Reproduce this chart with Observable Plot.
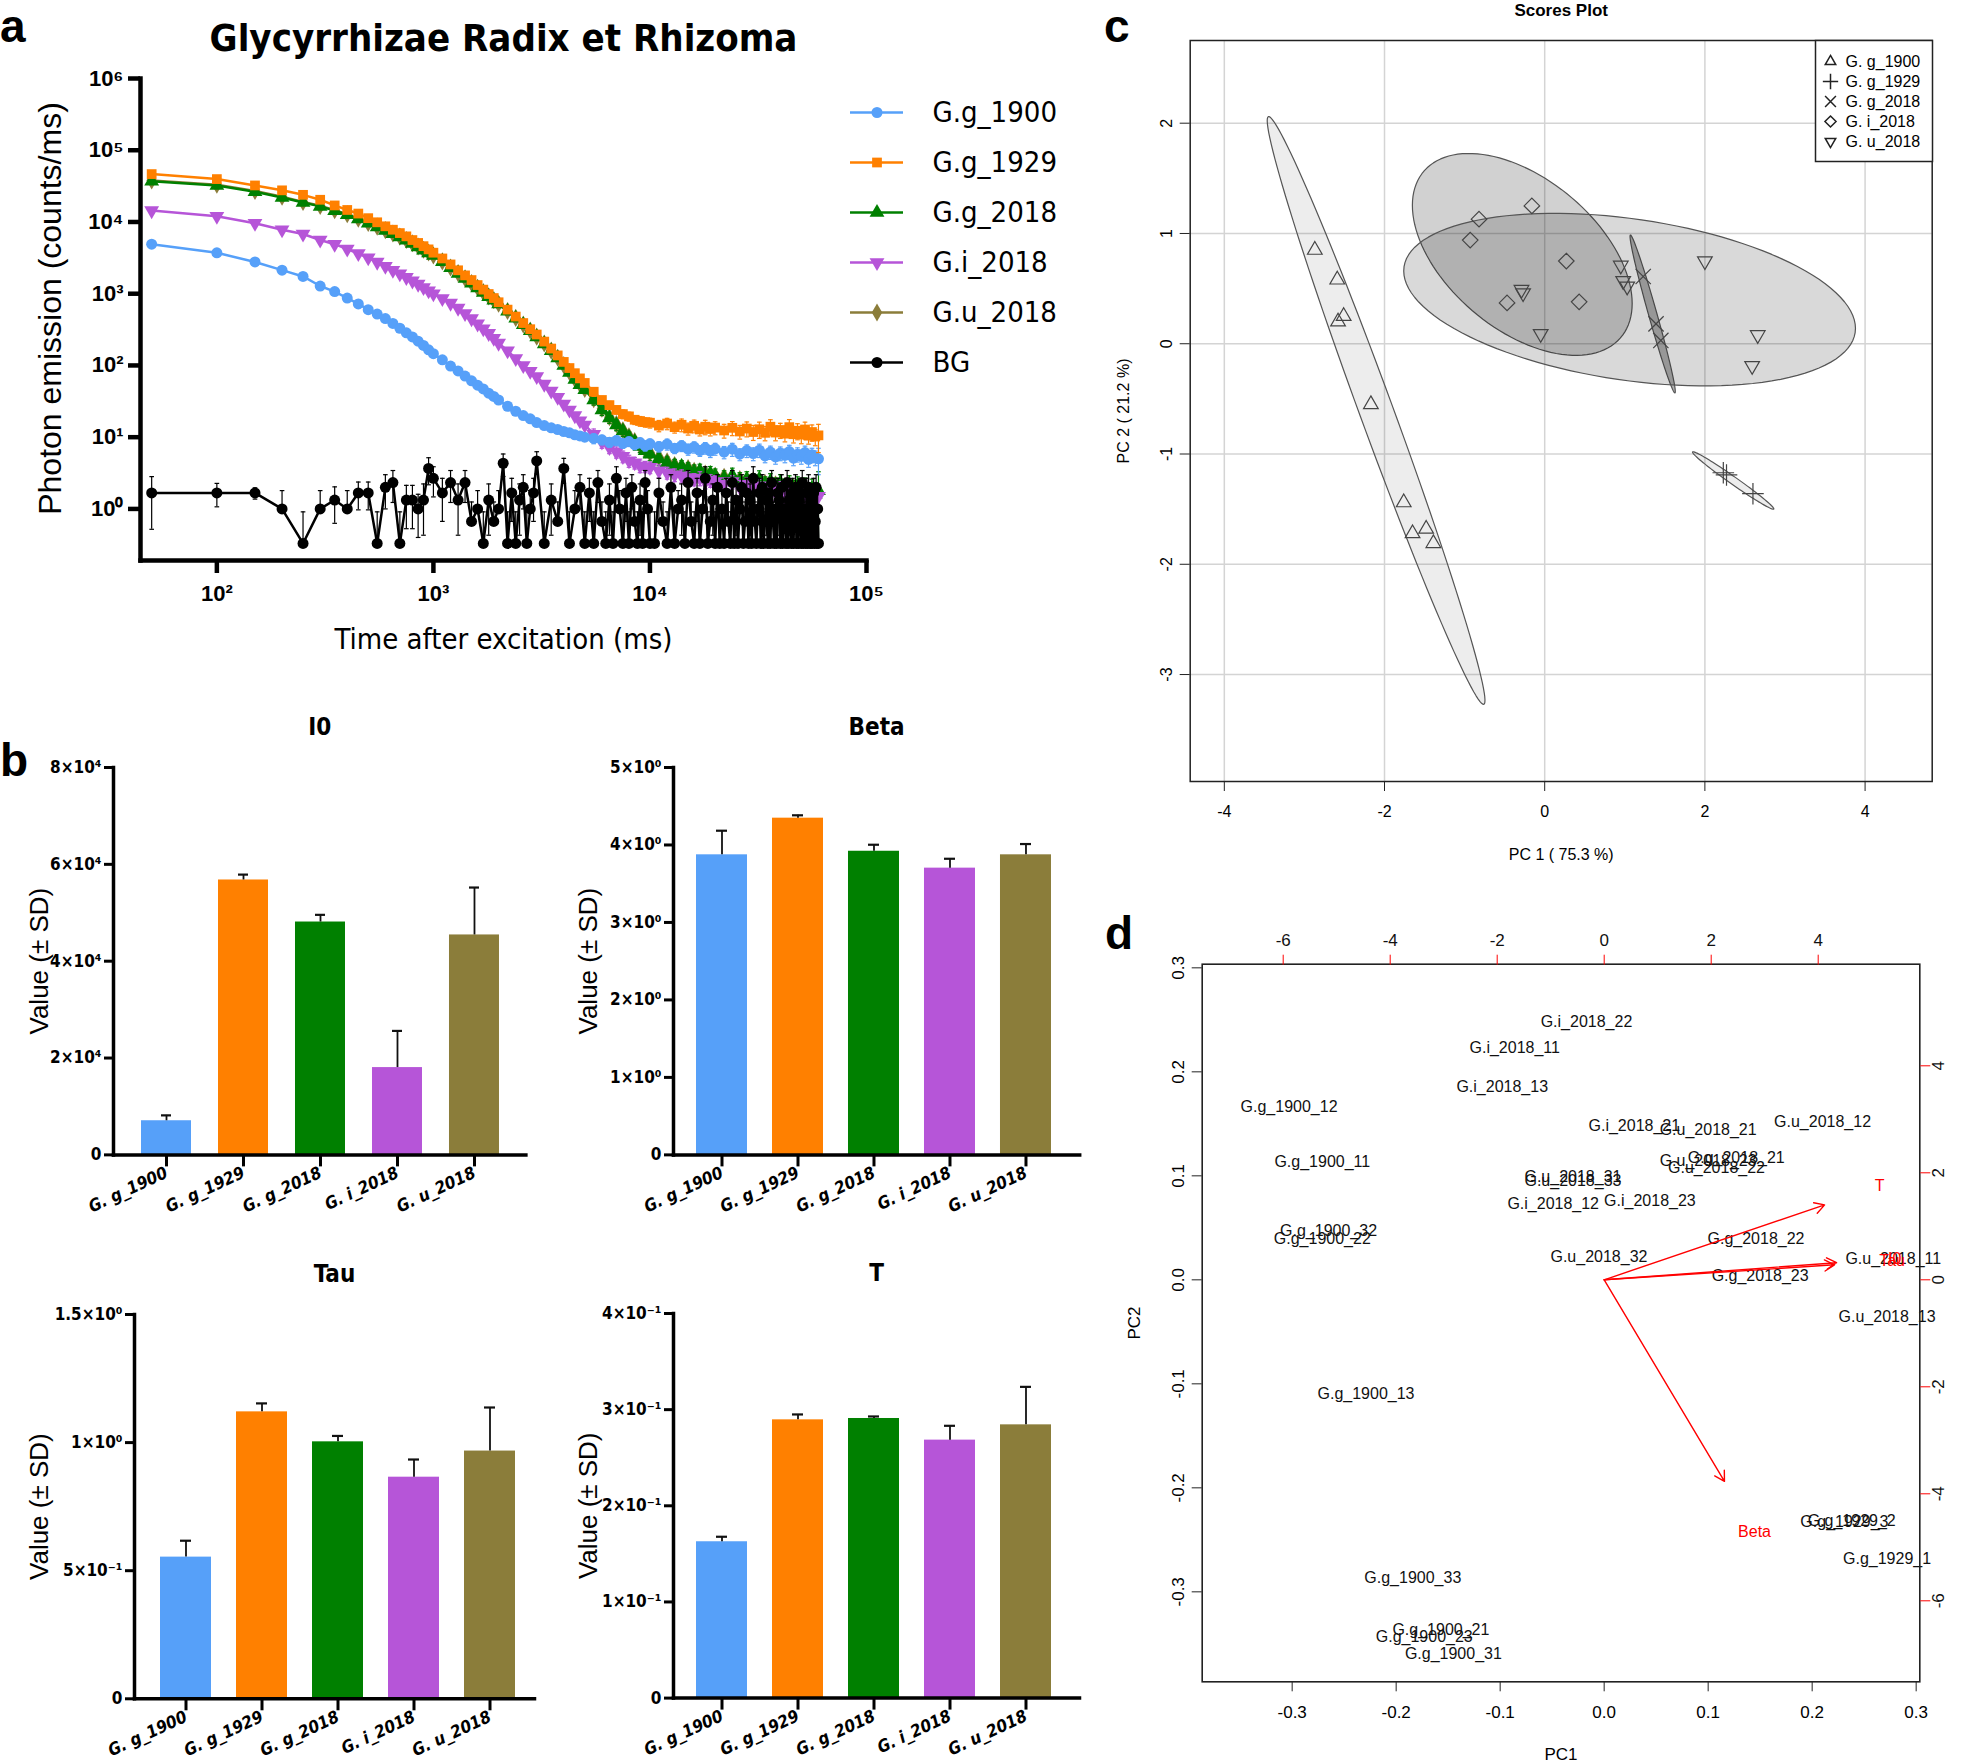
<!DOCTYPE html>
<html>
<head>
<meta charset="utf-8">
<script src="https://cdn.jsdelivr.net/npm/d3@7"></script>
<script src="https://cdn.jsdelivr.net/npm/@observablehq/plot@0.6"></script>
<style>
html,body{margin:0;padding:0;background:#fff;}
#page{position:relative;width:1961px;height:1763px;overflow:hidden;background:#fff;}
.tag{position:absolute;font-family:"Liberation Sans",Arial,sans-serif;font-weight:bold;line-height:1;}
</style>
</head>
<body>
<div id="page">
  <div class="tag" style="left:0px;top:3px;font-size:46px">a</div>
  <div class="tag" style="left:0px;top:737px;font-size:46px">b</div>
  <div class="tag" style="left:1104px;top:3px;font-size:46px">c</div>
  <div class="tag" style="left:1105px;top:910px;font-size:46px">d</div>
</div>
<script>
// ---------------- DATA ----------------
// Panel a: delayed luminescence decay curves (time in ms, photon emission counts/ms)
const decayTimes = [50,100,150,200,250,300,350,400,450,500,550,600,650,700,750,800,850,900,950,1000,
  1100,1200,1300,1400,1500,1600,1700,1800,1900,2000,
  2200,2400,2600,2800,3000,3250,3500,3750,4000,4250,4500,4750,5000,
  5500,6000,6500,7000,7500,8000,8500,9000,9500,10000,
  11000,12000,13000,14000,15000,16000,17000,18000,19000,20000,
  22000,24000,26000,28000,30000,32000,34000,36000,38000,40000,42000,44000,46000,48000,50000,52000,54000,56000,58000,60000];
const seriesNames = ["G.g_1900","G.g_1929","G.g_2018","G.i_2018","G.u_2018","BG"];
const gg1900 = [4900,3720,2770,2130,1740,1280,1070,870,720,600,520,450,385,330,285,250,218,190,165,146,
  120,98,84,71,61,53,47,41,37,33,
  27,23,20,18,16,14.5,13.5,12.8,12,11.5,10.8,10.4,10,
  9.6,9.2,8.5,9.0,8.2,8.7,7.9,8.4,7.6,8.1,
  7.4,8.0,7.0,7.6,6.8,7.3,6.5,7.1,6.4,6.9,
  6.2,6.8,5.8,6.5,5.9,6.6,5.5,6.2,5.3,6.0,5.6,6.3,5.1,5.8,5.4,6.1,4.9,5.7,5.2,5.0];
const gg1929 = [46500,39600,32300,27600,23900,20400,17000,14700,13100,11300,9900,8700,7800,7000,6300,5600,5100,4600,4150,3730,
  3100,2560,2120,1800,1550,1320,1140,990,870,760,
  600,480,390,320,270,215,172,138,112,92,78,66,57,
  43,33,28,24,21,19.5,17.5,16.8,16.2,15.9,
  14.5,15.5,13.8,14.9,13.2,14.4,12.8,14.0,13.0,13.6,
  12.4,13.5,12.0,13.2,11.8,12.9,11.5,14.0,11.6,12.6,11.2,13.8,11.0,12.3,10.9,12.8,10.5,11.8,10.2,10.6];
const gg2018 = [37000,32300,26400,22000,18700,16500,14400,12600,11000,9600,8500,7600,6850,6200,5550,5000,4500,4050,3700,3400,
  2800,2300,1920,1630,1400,1200,1040,910,810,720,
  570,455,370,305,250,200,160,127,100,80,64,54,46,
  33,24,18.5,14.8,12.2,10,8.6,7.4,6.5,5.8,
  5.0,4.4,4.0,3.9,3.6,3.3,3.4,3.0,3.1,2.9,
  2.7,2.9,2.5,2.6,2.4,2.6,2.2,2.4,2.1,2.3,2.0,2.2,1.9,2.1,1.8,2.0,1.7,1.9,1.6,1.8];
const gi2018 = [14400,12000,9600,7800,6800,5600,4900,4200,3630,3170,2760,2410,2130,1900,1690,1510,1360,1220,1100,1000,
  860,740,630,530,450,380,325,280,240,205,
  160,125,100,83,70,55,44,36,29,24,20,17,14.8,
  11,8.6,7.2,6.2,5.4,4.7,4.4,4.0,3.9,3.8,
  3.4,3.2,3.0,2.9,2.75,2.6,2.7,2.4,2.5,2.4,
  2.2,2.4,2.0,2.2,2.0,2.1,1.8,2.0,1.7,1.9,1.6,1.8,1.5,1.7,1.5,1.7,1.4,1.6,1.4,1.5];
const gu2018 = [38000,33000,27000,22500,19000,16800,14600,12800,11100,9700,8600,7700,6900,6250,5600,5050,4550,4100,3750,3420,
  2820,2320,1940,1640,1410,1210,1050,920,815,725,
  575,460,372,307,252,202,161,128,101,81,65,55,47,
  34,25,19,15.2,12.5,10.3,8.8,7.6,6.7,6.0,
  5.2,4.6,4.1,3.8,3.7,3.4,3.2,3.1,3.0,2.9,
  2.8,2.7,2.6,2.5,2.5,2.4,2.3,2.3,2.2,2.2,2.1,2.1,2.0,2.0,1.9,1.9,1.8,1.8,1.7,1.7];
// SD of the late part of each curve (times 5500 ... 60000 ms, i.e. decayTimes from index 43)
const tailStart = 43;
const gg1900TailSD = [1.5,1.4,1.3,1.4,1.2,1.3,1.2,1.3,1.2,1.3, 1.2,1.4,1.1,1.3,1.2,1.3,1.1,1.3,1.2,1.3, 1.2,1.4,1.1,1.3,1.2,1.4,1.1,1.3,1.1,1.3, 1.2,1.4,1.1,1.3,1.2,1.4,1.1,1.3,1.2,2.0];
const gg1929TailSD = [6,4,3.5,3,3,2.8,2.5,2.6,2.4,2.5, 2.6,2.8,2.4,3.0,2.5,2.9,2.4,3.2,2.6,2.8, 2.7,3.0,2.6,3.1,2.8,3.3,2.6,3.5,2.7,3.0, 2.6,3.8,2.7,3.1,2.8,3.4,2.5,3.0,2.6,4.5];
const gg2018TailSD = [5,4,3,2.5,2,1.8,1.5,1.3,1.2,1.1, 1.0,0.9,0.9,0.8,0.8,0.8,0.8,0.7,0.8,0.7, 0.7,0.8,0.7,0.7,0.7,0.8,0.6,0.7,0.6,0.7, 0.6,0.7,0.6,0.7,0.6,0.7,0.6,0.7,0.6,1.5];
const gi2018TailSD = [2,1.6,1.3,1.1,1.0,0.9,0.8,0.8,0.7,0.7, 0.7,0.6,0.6,0.6,0.6,0.5,0.6,0.5,0.5,0.5, 0.5,0.5,0.5,0.5,0.5,0.5,0.4,0.5,0.4,0.5, 0.4,0.5,0.4,0.5,0.4,0.5,0.4,0.5,0.4,0.6];
// Background (BG) is read on a denser time grid
const bgTimes = [50,100,150,200,250,300,350,400,450,500,550,600,650,700,750,800,850,900,950,1000,
  1100,1200,1300,1400,1500,1600,1700,1800,1900,2000,2100,2200,2300,2400,2500,2600,2700,2800,2900,3000,
  3250,3500,3750,4000,4250,4500,4750,5000,5250,5500,5750,6000,6250,6500,6750,7000,7250,7500,7750,8000,8250,8500,8750,9000,9250,9500,9750,10000,
  10500,11000,11500,12000,12500,13000,13500,14000,14500,15000,15500,16000,16500,17000,17500,18000,18500,19000,19500,20000,
  20500,21000,21500,22000,22500,23000,23500,24000,24500,25000,25500,26000,26500,27000,27500,28000,28500,29000,29500,30000,
  30500,31000,31500,32000,32500,33000,33500,34000,34500,35000,35500,36000,36500,37000,37500,38000,38500,39000,39500,40000,
  40500,41000,41500,42000,42500,43000,43500,44000,44500,45000,45500,46000,46500,47000,47500,48000,48500,49000,49500,50000,
  50500,51000,51500,52000,52500,53000,53500,54000,54500,55000,55500,56000,56500,57000,57500,58000,58500,59000,59500,60000];
const bgValues = [1.67,1.67,1.67,1.0,0.33,1.0,1.33,1.0,1.67,1.67,0.33,2.0,2.33,0.33,1.33,1.33,1.0,1.33,3.67,2.67,
  1.67,2.33,1.33,2.33,0.67,1.0,0.33,1.33,0.67,1.0,4.33,0.33,1.67,0.33,1.33,2.0,0.33,1.0,1.67,4.67,
  0.33,1.33,0.67,3.67,0.33,1.0,2.0,0.33,1.67,0.33,2.33,0.67,0.33,1.33,0.33,2.67,1.0,0.33,1.67,0.33,2.0,0.67,0.33,1.33,0.33,2.33,1.0,0.33,
  0.33,1.67,0.67,0.33,2.0,0.33,1.0,1.33,0.33,2.33, 0.67,0.33,1.67,0.33,1.0,2.67,0.33,0.67,1.33,0.33,
  2.0,0.33,1.0,0.33,1.67,0.67,0.33,2.33,0.33,1.33, 0.33,1.0,2.0,0.33,0.67,1.67,0.33,1.33,0.33,2.67,
  0.67,0.33,1.0,1.67,0.33,2.0,0.33,0.67,1.33,0.33, 1.67,0.33,2.33,0.67,0.33,1.0,0.33,1.67,1.33,0.33,
  2.0,0.33,0.67,1.0,0.33,2.33,0.33,1.33,0.67,0.33, 1.67,0.33,1.0,2.0,0.33,0.67,0.33,1.33,1.67,0.33,
  2.33,0.33,0.67,1.0,0.33,1.67,0.33,2.0,0.67,0.33, 1.33,0.33,1.0,1.67,0.33,0.67,2.0,0.33,1.0,0.33];
const bgSD = [1.15,0.6,0.3,0.8,0.58,0.8,0.7,0.8,0.7,0.7,0.58,1.0,1.1,0.58,0.8,0.8,0.6,0.9,1.5,1.2,
  1.0,1.1,0.9,1.1,0.58,0.8,0.58,0.9,0.58,0.8,1.5,0.58,1.0,0.58,0.9,1.0,0.58,0.8,1.0,1.6,
  0.58,0.9,0.58,1.4,0.58,0.8,1.0,0.58,1.0,0.58,1.1,0.58,0.58,0.9,0.58,1.2,0.8,0.58,1.0,0.58,1.0,0.58,0.58,0.9,0.58,1.1,0.8,0.58,
  0.58,1.0,0.58,0.58,1.0,0.58,0.8,0.9,0.58,1.1, 0.58,0.58,1.0,0.58,0.8,1.2,0.58,0.58,0.9,0.58,
  1.0,0.58,0.8,0.58,1.0,0.58,0.58,1.1,0.58,0.9, 0.58,0.8,1.0,0.58,0.58,1.0,0.58,0.9,0.58,1.2,
  0.58,0.58,0.8,1.0,0.58,1.0,0.58,0.58,0.9,0.58, 1.0,0.58,1.1,0.58,0.58,0.8,0.58,1.0,0.9,0.58,
  1.0,0.58,0.58,0.8,0.58,1.1,0.58,0.9,0.58,0.58, 1.0,0.58,0.8,1.0,0.58,0.58,0.58,0.9,1.0,0.58,
  1.1,0.58,0.58,0.8,0.58,1.0,0.58,1.0,0.58,0.58, 0.9,0.58,0.8,1.0,0.58,0.58,1.0,0.58,0.8,0.58];
const decayXTicks = [100,1000,10000,100000];
const decayYTicks = [1,10,100,1000,10000,100000,1000000];

// Panel b: fitted parameters (mean, SD)
const barCats = ["G. g_1900","G. g_1929","G. g_2018","G. i_2018","G. u_2018"];
const i0Mean = [7050,56770,48090,18030,45420];
const i0SD = [1110,1110,1480,7570,9790];
const betaMean = [3.873,4.346,3.919,3.701,3.873];
const betaSD = [0.311,0.037,0.084,0.121,0.139];
const tauMean = [0.553,1.120,1.003,0.865,0.967];
const tauSD = [0.064,0.033,0.023,0.069,0.170];
const tMean = [0.1626,0.2894,0.2908,0.2683,0.2842];
const tSD = [0.0052,0.0056,0.0021,0.0149,0.0395];
const i0Ticks = [0,20000,40000,60000,80000];
const i0TickLabels = ["0","2×10⁴","4×10⁴","6×10⁴","8×10⁴"];
const betaTicks = [0,1,2,3,4,5];
const betaTickLabels = ["0","1×10⁰","2×10⁰","3×10⁰","4×10⁰","5×10⁰"];
const tauTicks = [0,0.5,1,1.5];
const tauTickLabels = ["0","5×10⁻¹","1×10⁰","1.5×10⁰"];
const tTicks = [0,0.1,0.2,0.3,0.4];
const tTickLabels = ["0","1×10⁻¹","2×10⁻¹","3×10⁻¹","4×10⁻¹"];

// Panel c: PCA scores
const scoreGroups = ["G. g_1900","G. g_1929","G. g_2018","G. i_2018","G. u_2018"];
const scoreGroupIndex = [0,0,0,0,0,0,0,0,0, 1,1,1, 2,2,2, 3,3,3,3,3,3, 4,4,4,4,4,4,4,4,4];
const scorePC1 = [-2.87,-2.59,-2.51,-2.58,-2.17,-1.76,-1.65,-1.48,-1.39, 2.23,2.27,2.60, 1.23,1.39,1.45, -0.82,-0.16,-0.93,0.27,-0.47,0.43, 0.95,-0.29,-0.27,-0.05,2.00,2.66,2.59,0.98,1.03];
const scorePC2 = [0.85,0.58,0.25,0.20,-0.55,-1.44,-1.72,-1.68,-1.81, -1.17,-1.19,-1.36, 0.61,0.18,0.03, 1.13,1.25,0.94,0.75,0.37,0.38, 0.71,0.49,0.46,0.09,0.75,0.08,-0.20,0.57,0.52];
// confidence ellipses: centre and two conjugate semi-axis vectors (PC units)
const ellCX = [-2.105, 2.353, 1.348, -0.28, 1.06];
const ellCY = [-0.605, -1.24, 0.27, 0.81, 0.40];
const ellAX = [1.345, -0.507, -0.278, 1.372, 2.82];
const ellAY = [-2.665, 0.259, 0.716, -0.445, -0.26];
const ellBX = [0.197, 0.027, 0.050, 0, 0];
const ellBY = [0.053, 0.028, 0.011, 0.80, 0.738];

// Panel d: biplot
const bpNames = ["G.i_2018_22","G.i_2018_11","G.i_2018_13","G.g_1900_12","G.i_2018_21","G.u_2018_21","G.u_2018_12","G.g_1900_11",
  "G.u_2018_31","G.u_2018_33","G.u_2018_23","G.g_2018_21","G.u_2018_22","G.i_2018_12","G.i_2018_23","G.g_1900_32","G.g_1900_22",
  "G.g_2018_22","G.u_2018_32","G.u_2018_11","G.g_2018_23","G.u_2018_13","G.g_1900_13","G.g_1929_2","G.g_1929_3","G.g_1929_1",
  "G.g_1900_33","G.g_1900_21","G.g_1900_23","G.g_1900_31"];
const bpPC1 = [-0.017,-0.086,-0.098,-0.303,0.029,0.100,0.210,-0.271,-0.030,-0.030,0.100,0.127,0.108,-0.049,0.044,-0.265,-0.271,
  0.146,-0.005,0.278,0.150,0.272,-0.229,0.238,0.231,0.272,-0.184,-0.157,-0.173,-0.145];
const bpPC2 = [0.248,0.223,0.186,0.166,0.148,0.144,0.152,0.113,0.099,0.095,0.114,0.117,0.108,0.073,0.076,0.047,0.039,
  0.039,0.022,0.020,0.004,-0.036,-0.110,-0.232,-0.233,-0.268,-0.287,-0.337,-0.343,-0.360];
const loadNames = ["I0","Beta","Tau","T"];
const loadPC1 = [5.43,2.81,5.38,5.15];
const loadPC2 = [0.40,-4.71,0.35,1.75];

// ---------------- STYLE ----------------
const seriesColors = ["#56A0F9","#FF8000","#008000","#B655D8","#8B7D3A","#000000"];
const seriesSymbols = ["circle","square","triangle","triangle","diamond","circle"];
const barColors = ["#56A0F9","#FF8000","#008000","#B655D8","#8B7D3A"];
const NARROW = '"Liberation Sans Narrow","Arial Narrow","DejaVu Sans Condensed",sans-serif';
const ARIAL = '"Liberation Sans",Arial,Helvetica,sans-serif';
const page = document.getElementById("page");
function put(el, left, top) { el.style.position = "absolute"; el.style.left = left + "px"; el.style.top = top + "px"; page.appendChild(el); }
const SUP = {"0":"⁰","1":"¹","2":"²","3":"³","4":"⁴","5":"⁵","6":"⁶","-":"⁻"};
const pow10 = d => "10" + String(Math.round(Math.log10(d))).split("").map(c => SUP[c]).join("");
const plain = d => String(d);
const oneDec = d => d.toFixed(1);

// ---------------- PANEL A ----------------
{
  const values = {"G.g_1900": gg1900, "G.g_1929": gg1929, "G.g_2018": gg2018, "G.i_2018": gi2018, "G.u_2018": gu2018};
  const tailSD = {"G.g_1900": gg1900TailSD, "G.g_1929": gg1929TailSD, "G.g_2018": gg2018TailSD, "G.i_2018": gi2018TailSD};
  const drawOrder = ["G.u_2018","G.g_2018","G.i_2018","G.g_1900","G.g_1929","BG"];
  const marks = [];
  const errMarks = (eb, color) => [
    Plot.ruleX(eb, {x: "t", y1: "lo", y2: "hi", stroke: color, strokeWidth: 1.2}),
    Plot.link(eb, {x1: d => d.t / 1.025, x2: d => d.t * 1.025, y1: "hi", y2: "hi", stroke: color, strokeWidth: 1.2}),
    Plot.link(eb.filter(d => d.lo < d.v), {x1: d => d.t / 1.025, x2: d => d.t * 1.025, y1: "lo", y2: "lo", stroke: color, strokeWidth: 1.2})
  ];
  for (const s of drawOrder) {
    const color = seriesColors[seriesNames.indexOf(s)];
    let rows;
    if (s === "BG") {
      rows = bgTimes.map((t, i) => ({s, t, v: bgValues[i]}));
      const eb = bgTimes.map((t, i) => ({t, v: bgValues[i], hi: bgValues[i] + bgSD[i], lo: bgValues[i] - bgSD[i] > 0.2 ? bgValues[i] - bgSD[i] : bgValues[i]}));
      marks.push(...errMarks(eb, color));
    } else {
      rows = decayTimes.map((t, i) => ({s, t, v: values[s][i]}));
      if (tailSD[s]) {
        const eb = tailSD[s].map((sd, j) => {
          const i = tailStart + j, v = values[s][i];
          return {t: decayTimes[i], v, hi: v + sd, lo: v - sd > 0.25 ? v - sd : v};
        });
        marks.push(...errMarks(eb, color));
      }
    }
    marks.push(Plot.line(rows, {x: "t", y: "v", stroke: "s", strokeWidth: 2.5}));
    marks.push(Plot.dot(rows, {x: "t", y: "v", fill: "s", symbol: "s", r: 5.5, rotate: s === "G.i_2018" ? 180 : 0}));
  }
  const W = 1090, H = 680, L = 140, T = 78, R = 866, B = 560;
  const svg = Plot.plot({
    width: W, height: H, marginLeft: L, marginTop: T, marginRight: W - R, marginBottom: H - B,
    x: {type: "log", domain: [44.4, 1e5]},
    y: {type: "log", domain: [0.191, 1e6]},
    color: {domain: seriesNames, range: seriesColors},
    symbol: {domain: seriesNames, range: seriesSymbols},
    style: {fontFamily: ARIAL, background: "transparent", overflow: "visible"},
    marks: [
      ...marks,
      Plot.frame({anchor: "left", strokeWidth: 4.5, stroke: "#000"}),
      Plot.frame({anchor: "bottom", strokeWidth: 4.5, stroke: "#000"}),
      Plot.axisX({ticks: decayXTicks, tickFormat: pow10, tickSize: 13, tickPadding: 12, strokeWidth: 4.5, fontSize: 22, fontWeight: "bold", label: null}),
      Plot.axisY({ticks: decayYTicks, tickFormat: pow10, tickSize: 12, tickPadding: 5, strokeWidth: 4.5, fontSize: 22, fontWeight: "bold", label: null}),
      Plot.text(["Glycyrrhizae Radix et Rhizoma"], {text: d => d, frameAnchor: "top", lineAnchor: "middle", dy: -40, fontSize: 38, fontWeight: "bold", fontFamily: NARROW}),
      Plot.text(["Time after excitation (ms)"], {text: d => d, frameAnchor: "bottom", lineAnchor: "middle", dy: 79, fontSize: 29, fontFamily: NARROW}),
      Plot.text(["Photon emission (counts/ms)"], {text: d => d, frameAnchor: "left", textAnchor: "middle", lineAnchor: "middle", dx: -90, dy: -11, rotate: -90, fontSize: 32, fontFamily: ARIAL})
    ]
  });
  put(svg, 0, 0);

  const leg = Plot.plot({
    width: 260, height: 320, margin: 0,
    x: {domain: [0, 1], range: [10, 63], axis: null},
    y: {type: "point", domain: seriesNames, range: [30, 284], padding: 0, axis: null},
    color: {domain: seriesNames, range: seriesColors},
    symbol: {domain: seriesNames, range: seriesSymbols},
    style: {background: "transparent", overflow: "visible"},
    marks: [
      Plot.ruleY(seriesNames, {y: d => d, x1: 0, x2: 1, stroke: d => d, strokeWidth: 2.5}),
      Plot.dot(seriesNames, {x: 0.5, y: d => d, fill: d => d, symbol: d => d, r: 5.5, rotate: d => d === "G.i_2018" ? 180 : 0}),
      Plot.text(seriesNames, {x: 1, y: d => d, text: d => d, dx: 29, textAnchor: "start", fontSize: 29, fontFamily: NARROW})
    ]
  });
  put(leg, 840, 80);
}

// ---------------- PANEL B ----------------
function barPanel(cfg) {
  const mL = 130, mR = 20, mT = 70, mB = 120;
  const fw = cfg.fr - cfg.fl, fh = cfg.fb - cfg.ft;
  const width = fw + mL + mR, height = fh + mT + mB;
  const rows = barCats.map((c, i) => ({c, m: cfg.mean[i], e: cfg.mean[i] + cfg.sd[i], col: barColors[i]}));
  const x0 = mL + (cfg.c0 - cfg.fl) - cfg.step / 2;
  const p = 1 - 51 / cfg.step;
  const svg = Plot.plot({
    width, height, marginLeft: mL, marginRight: mR, marginTop: mT, marginBottom: mB,
    x: {domain: barCats, range: [x0, x0 + 5 * cfg.step], paddingInner: p, paddingOuter: p / 2},
    y: {domain: [0, cfg.max]},
    color: {type: "identity"},
    style: {fontFamily: ARIAL, background: "transparent", overflow: "visible"},
    marks: [
      Plot.barY(rows, {x: "c", y: "m", fill: "col"}),
      Plot.ruleX(rows, {x: "c", y1: "m", y2: "e", stroke: "#111", strokeWidth: 1.8}),
      Plot.tickY(rows, {x: "c", y: "e", stroke: "#111", strokeWidth: 2.2, insetLeft: 20, insetRight: 20}),
      Plot.frame({anchor: "left", strokeWidth: 3.5, stroke: "#000"}),
      Plot.frame({anchor: "bottom", strokeWidth: 3.5, stroke: "#000"}),
      Plot.axisY({ticks: cfg.ticks, tickFormat: d => cfg.labels[cfg.ticks.indexOf(d)], tickSize: 9, tickPadding: 3, strokeWidth: 3, fontSize: 17, fontWeight: "bold", fontFamily: NARROW, label: null}),
      Plot.axisX({tickSize: 12, tickPadding: 5, strokeWidth: 3, tickRotate: -25, fontSize: 17, fontWeight: "bold", fontStyle: "italic", fontFamily: NARROW, label: null}),
      Plot.text([cfg.title], {text: d => d, frameAnchor: "top", lineAnchor: "middle", dy: -40, fontSize: 24, fontWeight: "bold", fontFamily: NARROW}),
      Plot.text(["Value (± SD)"], {text: d => d, frameAnchor: "left", textAnchor: "middle", lineAnchor: "middle", dx: cfg.ylab, rotate: -90, fontSize: 26, fontFamily: ARIAL})
    ]
  });
  put(svg, cfg.fl - mL, cfg.ft - mT);
}
barPanel({title: "I0", mean: i0Mean, sd: i0SD, max: 80000, ticks: i0Ticks, labels: i0TickLabels, fl: 112.6, fr: 525, ft: 766.6, fb: 1154, c0: 164.5, step: 77.85, ylab: -74});
barPanel({title: "Beta", mean: betaMean, sd: betaSD, max: 5, ticks: betaTicks, labels: betaTickLabels, fl: 672.8, fr: 1079, ft: 766.6, fb: 1154, c0: 721, step: 76.2, ylab: -85});
barPanel({title: "Tau", mean: tauMean, sd: tauSD, max: 1.5, ticks: tauTicks, labels: tauTickLabels, fl: 134, fr: 534, ft: 1314, fb: 1698.3, c0: 183.8, step: 76.6, ylab: -95});
barPanel({title: "T", mean: tMean, sd: tSD, max: 0.4, ticks: tTicks, labels: tTickLabels, fl: 673, fr: 1079, ft: 1312.7, fb: 1697.3, c0: 721, step: 76.2, ylab: -85});

// ---------------- PANEL C ----------------
{
  const L = 1189.7, R = 1931.7, T = 40, B = 781, sx = 1090, sy = 0, W = 871, H = 880;
  const symbols = ["triangle2", "plus", "times", "diamond2", "triangle2"];
  const rows = scorePC1.map((x, i) => ({g: scoreGroups[scoreGroupIndex[i]], x, y: scorePC2[i]}));
  const ellFillOpacity = [0.07, 0.07, 0.30, 0.18, 0.15];
  const ellMarks = ellCX.map((cx, k) => {
    const pts = d3.range(0, 121).map(i => {
      const a = 2 * Math.PI * i / 120;
      return {x: cx + ellAX[k] * Math.cos(a) + ellBX[k] * Math.sin(a), y: ellCY[k] + ellAY[k] * Math.cos(a) + ellBY[k] * Math.sin(a)};
    });
    return Plot.line(pts, {x: "x", y: "y", fill: "#000", fillOpacity: ellFillOpacity[k], stroke: "#555", strokeWidth: 1.2});
  });
  const svg = Plot.plot({
    width: W, height: H, marginLeft: L - sx, marginRight: sx + W - R, marginTop: T - sy, marginBottom: sy + H - B,
    x: {domain: [-4.426, 4.838]},
    y: {domain: [-3.97, 2.75]},
    symbol: {domain: scoreGroups, range: symbols},
    style: {fontFamily: ARIAL, background: "transparent", overflow: "visible"},
    marks: [
      Plot.gridX({ticks: [-4, -2, 0, 2, 4], stroke: "#d4d4d4", strokeOpacity: 1, strokeWidth: 1.5}),
      Plot.gridY({ticks: [-3, -2, -1, 0, 1, 2], stroke: "#d4d4d4", strokeOpacity: 1, strokeWidth: 1.5}),
      ...ellMarks,
      Plot.dot(rows, {x: "x", y: "y", symbol: "g", stroke: "#444", fill: "none", strokeWidth: 1.2, r: 7, rotate: d => d.g === "G. u_2018" ? 180 : 0}),
      Plot.frame({stroke: "#222", strokeWidth: 1.5}),
      Plot.axisX({ticks: [-4, -2, 0, 2, 4], tickFormat: plain, tickSize: 10, tickPadding: 14, fontSize: 16, stroke: "#222", label: null}),
      Plot.axisY({ticks: [-3, -2, -1, 0, 1, 2], tickFormat: plain, tickSize: 10, tickPadding: 8, tickRotate: -90, fontSize: 16, stroke: "#222", label: null}),
      Plot.text(["Scores Plot"], {text: d => d, frameAnchor: "top", lineAnchor: "middle", dy: -30, fontSize: 17, fontWeight: "bold"}),
      Plot.text(["PC 1 ( 75.3 %)"], {text: d => d, frameAnchor: "bottom", lineAnchor: "middle", dy: 73, fontSize: 16}),
      Plot.text(["PC 2 ( 21.2 %)"], {text: d => d, frameAnchor: "left", textAnchor: "middle", lineAnchor: "middle", dx: -66, rotate: -90, fontSize: 16})
    ]
  });
  put(svg, sx, sy);

  const leg = Plot.plot({
    width: 117, height: 121, margin: 0,
    x: {domain: [0, 1], range: [0, 117], axis: null},
    y: {type: "point", domain: scoreGroups, range: [20, 101], padding: 0, axis: null},
    symbol: {domain: scoreGroups, range: symbols},
    style: {fontFamily: ARIAL, background: "#fff", overflow: "visible"},
    marks: [
      Plot.frame({stroke: "#222", strokeWidth: 1.5}),
      Plot.dot(scoreGroups, {x: 0, y: d => d, dx: 15, symbol: d => d, stroke: "#222", fill: "none", r: 5, rotate: d => d === "G. u_2018" ? 180 : 0}),
      Plot.text(scoreGroups, {x: 0, y: d => d, dx: 30, text: d => d, textAnchor: "start", fontSize: 16})
    ]
  });
  put(leg, 1815, 40);
}

// ---------------- PANEL D ----------------
{
  const L = 1201.7, R = 1919.3, T = 963.7, B = 1681.3, sx = 1090, sy = 890, W = 871, H = 873;
  const margins = {marginLeft: L - sx, marginRight: sx + W - R, marginTop: T - sy, marginBottom: sy + H - B};
  const rows = bpNames.map((n, i) => ({n, x: bpPC1[i], y: bpPC2[i]}));
  const svg1 = Plot.plot({
    width: W, height: H, ...margins,
    x: {domain: [-0.3865, 0.3035]},
    y: {domain: [-0.3865, 0.3035]},
    style: {fontFamily: ARIAL, background: "transparent", overflow: "visible"},
    marks: [
      Plot.text(rows, {x: "x", y: "y", text: "n", fontSize: 16, fill: "#111"}),
      Plot.frame({stroke: "#222", strokeWidth: 1.6}),
      Plot.axisX({ticks: [-0.3, -0.2, -0.1, 0, 0.1, 0.2, 0.3], tickFormat: oneDec, tickSize: 10, tickPadding: 14, fontSize: 17, stroke: "#222", label: null}),
      Plot.axisY({ticks: [-0.3, -0.2, -0.1, 0, 0.1, 0.2, 0.3], tickFormat: oneDec, tickSize: 10, tickPadding: 8, tickRotate: -90, fontSize: 17, stroke: "#222", label: null}),
      Plot.text(["PC1"], {text: d => d, frameAnchor: "bottom", lineAnchor: "middle", dy: 73, fontSize: 17}),
      Plot.text(["PC2"], {text: d => d, frameAnchor: "left", textAnchor: "middle", lineAnchor: "middle", dx: -68, rotate: -90, fontSize: 17})
    ]
  });
  put(svg1, sx, sy);

  const lrows = loadNames.map((n, i) => ({n, x: loadPC1[i], y: loadPC2[i]}));
  const svg2 = Plot.plot({
    width: W, height: H, ...margins,
    x: {domain: [-7.514, 5.899]},
    y: {domain: [-7.514, 5.899]},
    style: {fontFamily: ARIAL, background: "transparent", overflow: "visible"},
    marks: [
      Plot.arrow(lrows, {x1: 0, y1: 0, x2: d => d.x * 0.8, y2: d => d.y * 0.8, stroke: "red", strokeWidth: 1.4, headLength: 12, headAngle: 60, insetEnd: 0}),
      Plot.text(lrows, {x: "x", y: "y", text: "n", fill: "red", fontSize: 16}),
      Plot.axisX({anchor: "top", ticks: [-6, -4, -2, 0, 2, 4], tickFormat: plain, tickSize: 10, tickPadding: 8, fontSize: 17, stroke: "red", color: "#111", fill: "#111", label: null}),
      Plot.axisY({anchor: "right", ticks: [-6, -4, -2, 0, 2, 4], tickFormat: plain, tickSize: 10, tickPadding: 14, tickRotate: -90, fontSize: 17, stroke: "red", color: "#111", fill: "#111", label: null})
    ]
  });
  put(svg2, sx, sy);
}
</script>
</body>
</html>
